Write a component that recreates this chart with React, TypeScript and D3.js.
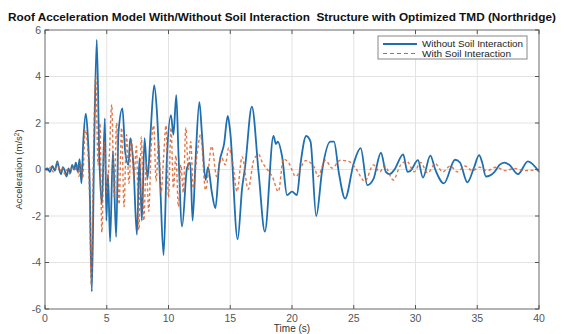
import React from "react";
import * as d3 from "d3";

const xTicks = [0, 5, 10, 15, 20, 25, 30, 35, 40];
const yTicks = [-6, -4, -2, 0, 2, 4, 6];

// Without Soil Interaction: time (s)
const blueT = [
  0, 0.2, 0.4, 0.6, 0.8, 1.0, 1.15, 1.3, 1.45, 1.6, 1.75, 1.9, 2.05, 2.2, 2.35, 2.5, 2.65, 2.8, 2.95,
  3.1, 3.3, 3.45, 3.6, 3.79, 3.97, 4.19, 4.4, 4.6, 4.85, 4.97, 5.1, 5.27, 5.5, 5.76, 5.95, 6.27, 6.49,
  6.76, 6.9, 7.16, 7.44, 7.65, 7.84, 8.06, 8.3, 8.55, 8.84, 9.06, 9.33, 9.6, 9.87, 10.2, 10.4, 10.63,
  10.8, 11.1, 11.5, 11.76, 11.95, 12.2, 12.5, 12.7, 13.0, 13.2, 13.5, 13.8, 14.1, 14.5, 14.8, 15.0,
  15.6, 15.96, 16.2, 16.75, 17.3, 17.8, 18.5, 18.7, 18.85, 19.2, 19.6, 20.0, 20.4, 20.7, 21.15, 21.5,
  21.96, 22.45, 23.1, 23.4, 23.8, 24.3, 25.0, 25.56, 26.1, 26.6, 27.2, 27.6, 27.9, 28.3, 29.0, 29.35,
  29.6, 30.2, 30.6, 31.2, 31.6, 32.3, 33.2, 33.6, 34.2, 34.75, 35.15, 35.4, 35.7, 36.4, 36.8, 37.2,
  37.6, 38.3, 39.1, 40,
];
// Without Soil Interaction: acceleration (m/s²)
const blueV = [
  0, 0.05, -0.1, 0.15, -0.05, 0.35, 0.0, -0.2, 0.1, -0.05, -0.3, 0.05, -0.15, 0.2, 0.0, 0.3, -0.1, 0.45, -0.6,
  1.2, 2.4, 1.6, -0.2, -5.25, 0.6, 5.57, 0.5, -1.5, 2.2, -2.2, -0.2, -3.1, 0.8, -2.9, 1.6, 2.63, 0.77,
  0.2, 1.35, 0.2, -2.8, 0.5, -2.2, 1.35, -0.4, 1.6, 3.63, 2.5, -0.67, -3.68, 0.5, 2.34, 1.5, 3.2,
  0.8, -2.45, 0.06, 0.3, -2.2, 0.5, 2.9, 1.6, -0.45, 0.1, -0.95, -1.66, 0.2, 1.1, 2.3, 1.6,
  -3.0, -0.8, 0.1, 2.7, -0.15, -2.67, 1.44, 1.1, 1.2, 0.55, -1.1, -0.95, -1.1, 0.28, 1.44, 1.2,
  -2.0, 0.0, 1.2, 1.2, -0.16, -1.25, 0.27, 0.92, -0.67, -0.4, 0.72, -0.1, -0.2, 0.0, 0.65, -0.1,
  -0.05, 0.4, -0.35, 0.6, 0.0, -0.6, 0.42, 0.3, -0.55, 0.1, 0.62, 0.3, -0.3, -0.1, 0.2, 0.3,
  0.2, -0.2, 0.35, -0.1,
];

// With Soil Interaction: time (s)
const orangeT = [
  0, 0.25, 0.45, 0.65, 0.85, 1.0, 1.2, 1.4, 1.6, 1.8, 2.0, 2.2, 2.4, 2.6, 2.75, 2.9, 3.05, 3.25, 3.45,
  3.6, 3.75, 3.92, 4.1, 4.3, 4.45, 4.6, 4.8, 5.0, 5.2, 5.4, 5.6, 5.8, 6.0, 6.2, 6.4, 6.6, 6.8, 7.0,
  7.2, 7.4, 7.6, 7.8, 8.0, 8.2, 8.4, 8.6, 8.8, 9.0, 9.2, 9.4, 9.6, 9.8, 10.0, 10.2, 10.4, 10.6, 10.8,
  11.0, 11.2, 11.4, 11.6, 11.8, 12.0, 12.3, 12.6, 13.0, 13.5, 13.9, 14.3, 14.6, 14.87, 15.2, 15.55,
  15.96, 16.45, 16.9, 17.3, 17.6, 18.0, 18.4, 18.9, 19.3, 19.74, 20.3, 21.1, 21.8, 22.1, 22.7, 23.26,
  23.9, 24.6, 25.1, 25.9, 26.6, 27.1, 27.5, 28.2, 28.8, 29.3, 29.9, 30.4, 31.0, 31.6, 32.2, 32.8,
  33.4, 34.0, 34.6, 35.2, 35.8, 36.5, 37.3, 38.0, 38.8, 40,
];
// With Soil Interaction: acceleration (m/s²)
const orangeV = [
  0, -0.05, 0.1, -0.1, 0.05, 0.3, -0.1, 0.1, -0.2, 0.0, -0.2, 0.15, -0.05, 0.2, -0.3, 0.3, -0.4, 1.7, 1.0,
  -1.0, -5.0, 0.5, 4.0, 0.2, 2.0, -2.7, 1.2, -1.0, 0.5, 2.8, -1.2, 2.0, -1.5, 1.8, -1.6, 1.5, -0.6, 1.3,
  -0.4, 1.0, -2.6, 1.4, -2.2, 0.3, -1.8, 1.0, 1.9, -0.5, 1.2, -1.0, 0.5, 1.9, -1.2, 1.8, -0.8, 0.6, -1.6,
  0.2, -1.0, 1.8, 0.0, 1.2, -0.8, 0.6, 1.5, -0.88, 1.0, -0.3, 0.5, 0.2, 0.93, 0.3, -0.95,
  0.55, -0.85, 0.4, 0.65, 0.3, 0.0, -0.3, -0.95, 0.45, 0.28, -0.3, 0.38, 0.1, -0.3, 0.4, 0.06,
  0.4, 0.35, 0.1, -0.5, 0.2, -0.1, 0.15, -0.45, 0.2, 0.35, -0.1, 0.3, -0.15, 0.25, -0.1, 0.15,
  -0.1, 0.15, -0.05, 0.1, -0.05, 0.1, -0.05, 0.05, -0.05, 0.0,
];

const seriesNames = ["Without Soil Interaction", "With Soil Interaction"];
const titleText =
  "Roof Acceleration Model With/Without Soil Interaction  Structure with Optimized TMD (Northridge)";

const W = 577;
const H = 334;
const M = { left: 45, right: 539, top: 30, bottom: 309 };
const FONT = "'Liberation Sans', Arial, sans-serif";
const BLUE = "#1f6fb0";
const ORANGE = "#d9602a";

export default function App() {
  const x = d3.scaleLinear().domain([0, 40]).range([M.left, M.right]);
  const y = d3.scaleLinear().domain([-6, 6]).range([M.bottom, M.top]);
  const line = d3
    .line<[number, number]>()
    .x((d) => x(d[0]))
    .y((d) => y(d[1]))
    .curve(d3.curveMonotoneX);
  const blue: [number, number][] = blueT.map((t, i) => [t, blueV[i]]);
  const orange: [number, number][] = orangeT.map((t, i) => [t, orangeV[i]]);
  const tickLen = 4;

  return (
    <svg
      width={W}
      height={H}
      style={{ position: "fixed", left: 0, top: 0, background: "#fff" }}
      fontFamily={FONT}
    >
      <rect x={0} y={0} width={W} height={H} fill="#fff" />
      <text
        x={8}
        y={21}
        fontSize={11}
        fontWeight="bold"
        fill="#111"
        textLength={548}
        lengthAdjust="spacingAndGlyphs"
        style={{ whiteSpace: "pre" }}
      >
        {titleText}
      </text>
      <rect x={M.left} y={M.top} width={M.right - M.left} height={M.bottom - M.top} fill="#fff" />
      {/* grid */}
      {xTicks.map((t) => (
        <line key={"gx" + t} x1={x(t)} x2={x(t)} y1={M.top} y2={M.bottom} stroke="#e3e3e3" strokeWidth={1} />
      ))}
      {yTicks.map((t) => (
        <line key={"gy" + t} x1={M.left} x2={M.right} y1={y(t)} y2={y(t)} stroke="#e3e3e3" strokeWidth={1} />
      ))}
      {/* data */}
      <path d={line(blue) || ""} fill="none" stroke={BLUE} strokeWidth={1.8} strokeLinejoin="round" />
      <path
        d={line(orange) || ""}
        fill="none"
        stroke={ORANGE}
        strokeWidth={1.4}
        strokeDasharray="3,2.5"
        opacity={0.85}
      />
      {/* box */}
      <rect
        x={M.left}
        y={M.top}
        width={M.right - M.left}
        height={M.bottom - M.top}
        fill="none"
        stroke="#777"
        strokeWidth={1}
      />
      {/* ticks */}
      {xTicks.map((t) => (
        <g key={"tx" + t}>
          <line x1={x(t)} x2={x(t)} y1={M.bottom} y2={M.bottom - tickLen} stroke="#555" />
          <line x1={x(t)} x2={x(t)} y1={M.top} y2={M.top + tickLen} stroke="#555" />
          <text x={x(t)} y={M.bottom + 13} textAnchor="middle" fontSize={10.5} fill="#555">
            {t}
          </text>
        </g>
      ))}
      {yTicks.map((t) => (
        <g key={"ty" + t}>
          <line x1={M.left} x2={M.left + tickLen} y1={y(t)} y2={y(t)} stroke="#555" />
          <line x1={M.right} x2={M.right - tickLen} y1={y(t)} y2={y(t)} stroke="#555" />
          <text x={M.left - 4} y={y(t) + 3.5} textAnchor="end" fontSize={10.5} fill="#555">
            {t}
          </text>
        </g>
      ))}
      {/* axis labels */}
      <text x={(M.left + M.right) / 2} y={332} textAnchor="middle" fontSize={10} fill="#333">
        Time (s)
      </text>
      <text
        transform={`translate(22,${(M.top + M.bottom) / 2}) rotate(-90)`}
        textAnchor="middle"
        fontSize={9.5}
        fill="#333"
      >
        Acceleration (m/s
        <tspan dy={-3.5} fontSize={6.5}>
          2
        </tspan>
        <tspan dy={3.5}>)</tspan>
      </text>
      {/* legend */}
      <rect x={378} y={36} width={149} height={23} fill="#fff" stroke="#888" strokeWidth={1} />
      <line x1={383} x2={417} y1={44} y2={44} stroke={BLUE} strokeWidth={1.8} />
      <line x1={383} x2={417} y1={53.5} y2={53.5} stroke={ORANGE} strokeWidth={1.2} strokeDasharray="4,3" />
      <text x={422} y={47.3} fontSize={9} fill="#222" textLength={101} lengthAdjust="spacingAndGlyphs">
        {seriesNames[0]}
      </text>
      <text x={422} y={56.6} fontSize={9} fill="#222" textLength={89} lengthAdjust="spacingAndGlyphs">
        {seriesNames[1]}
      </text>
    </svg>
  );
}
